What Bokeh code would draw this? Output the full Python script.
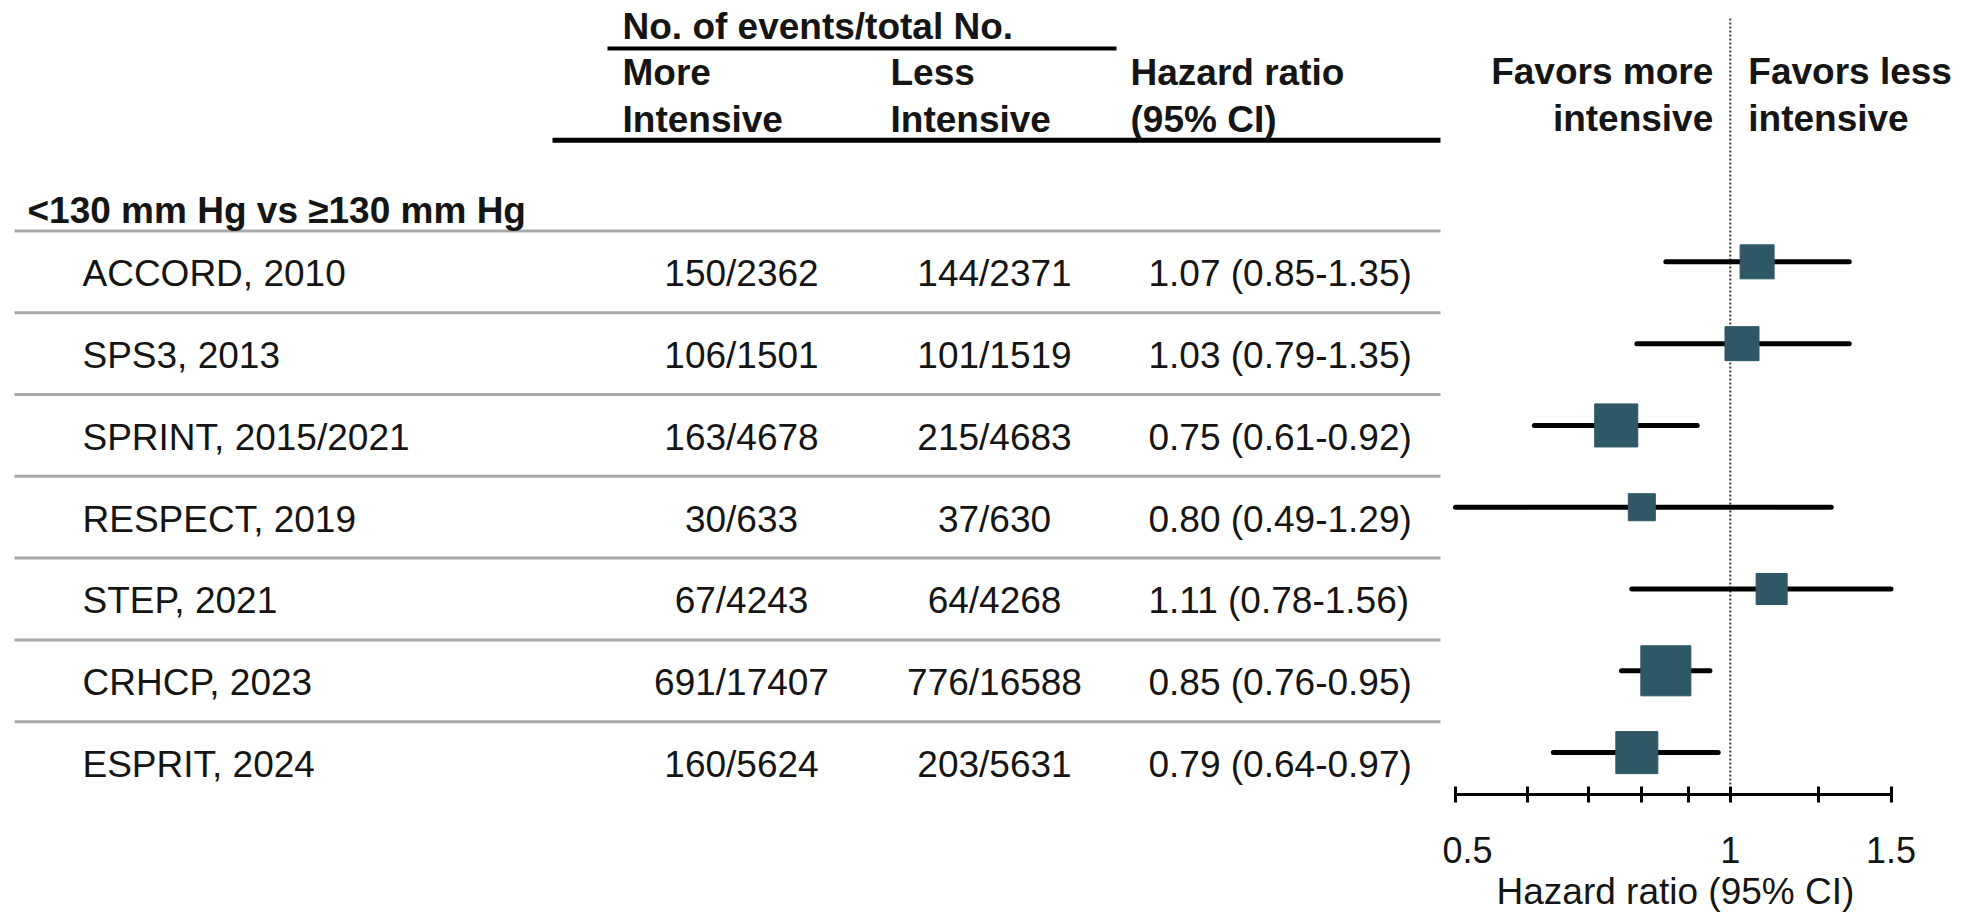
import math

from bokeh.core.properties import value
from bokeh.embed import file_html
from bokeh.layouts import row
from bokeh.models import FixedTicker, Label, Range1d, Title
from bokeh.plotting import figure
from bokeh.resources import INLINE

# ---- data -------------------------------------------------------------
subgroup = "<130 mm Hg vs \u2265130 mm Hg"
studies = ["ACCORD, 2010", "SPS3, 2013", "SPRINT, 2015/2021", "RESPECT, 2019",
           "STEP, 2021", "CRHCP, 2023", "ESPRIT, 2024"]
events_more = ["150/2362", "106/1501", "163/4678", "30/633", "67/4243",
               "691/17407", "160/5624"]
events_less = ["144/2371", "101/1519", "215/4683", "37/630", "64/4268",
               "776/16588", "203/5631"]
hr = [1.07, 1.03, 0.75, 0.80, 1.11, 0.85, 0.79]
ci_low = [0.85, 0.79, 0.61, 0.49, 0.78, 0.76, 0.64]
ci_high = [1.35, 1.35, 0.92, 1.29, 1.56, 0.95, 0.97]
weight_pct = [11.4, 11.4, 18.3, 7.2, 9.5, 24.7, 17.4]

axis_ticks = [0.5, 0.6, 0.7, 0.8, 0.9, 1.0, 1.25, 1.5]
axis_tick_labels = {0.5: "0.5", 1.0: "1", 1.5: "1.5"}
axis_bounds = (0.5, 1.5)
axis_title = "Hazard ratio (95% CI)"

# ---- layout / style ---------------------------------------------------
W, H = 1982, 914
TABLE_W = 1442
AXIS_Y = 796            # vertical position of the hazard-ratio axis
ROW_TOP = 231           # first rule under the subgroup heading
ROW_H = 82
FONT = "Liberation Sans"
FS = "37px"
INK = "#151515"
TEAL = "#2e5866"
RULE_GRAY = "#a9a9a9"

# log axis: pixels per natural-log unit, and where the axis bounds sit
PX_PER_LN = 396.5
AX_LEFT_PX, AX_RIGHT_PX = 1455, 1890.5
x_start = axis_bounds[0] * math.exp(-(AX_LEFT_PX - TABLE_W) / PX_PER_LN)
x_end = axis_bounds[1] * math.exp((W - AX_RIGHT_PX) / PX_PER_LN)
# the axis title starts a little inside the left end of the axis
title_offset = 1496 - TABLE_W

n = len(studies)
row_mid = [ROW_TOP + ROW_H * (i + 0.5) + 2 for i in range(n)]
mark_y = [ROW_TOP + ROW_H * (i + 0.5) - 10 for i in range(n)]
hr_text = [f"{h:.2f} ({lo:.2f}-{hi:.2f})" for h, lo, hi in zip(hr, ci_low, ci_high)]
box_size = [10.07 * math.sqrt(w) for w in weight_pct]
# intervals are truncated at the ends of the axis
ci_x0 = [max(lo, axis_bounds[0]) for lo in ci_low]
ci_x1 = [min(hi, axis_bounds[1]) for hi in ci_high]

txt = dict(text_font=value(FONT), text_font_size=value(FS), text_color=INK,
           text_baseline="middle")

# ---- left: table ------------------------------------------------------
t = figure(width=TABLE_W, height=H, x_range=Range1d(0, TABLE_W),
           y_range=Range1d(AXIS_Y, 0), output_backend="svg", toolbar_location=None,
           x_axis_location=None, y_axis_location=None, min_border=0,
           min_border_bottom=H - AXIS_Y)
t.grid.visible = False
t.outline_line_color = None
t.background_fill_color = "white"
t.border_fill_color = "white"

# header rules
t.segment(x0=[607], x1=[1116], y0=[48], y1=[48], line_color="black", line_width=4)
t.segment(x0=[552], x1=[1440], y0=[140], y1=[140], line_color="black", line_width=5)

# row rules
rule_y = [ROW_TOP + ROW_H * i for i in range(n)]
t.segment(x0=[14] * n, x1=[1440] * n, y0=rule_y, y1=rule_y,
          line_color=RULE_GRAY, line_width=3)

# header texts
t.text(x=[622], y=[26], text=["No. of events/total No."], text_font_style="bold",
       text_align="left", **txt)
t.text(x=[622, 890, 1130], y=[72, 72, 72], text=["More", "Less", "Hazard ratio"],
       text_font_style="bold", text_align="left", **txt)
t.text(x=[622, 890, 1130], y=[119, 119, 119], text=["Intensive", "Intensive", "(95% CI)"],
       text_font_style="bold", text_align="left", **txt)
t.text(x=[27], y=[211], text=[subgroup], text_font_style="bold", text_align="left", **txt)

# body texts
t.text(x=[82] * n, y=row_mid, text=studies, text_align="left", **txt)
t.text(x=[741] * n, y=row_mid, text=events_more, text_align="center", **txt)
t.text(x=[994] * n, y=row_mid, text=events_less, text_align="center", **txt)
t.text(x=[1148] * n, y=row_mid, text=hr_text, text_align="left", **txt)

# ---- right: forest plot ----------------------------------------------
f = figure(width=W - TABLE_W, height=H, x_axis_type="log",
           x_range=Range1d(x_start, x_end), y_range=Range1d(AXIS_Y, 0),
           output_backend="svg", toolbar_location=None, y_axis_location=None,
           min_border=0, min_border_bottom=H - AXIS_Y)
f.grid.visible = False
f.outline_line_color = None
f.background_fill_color = "white"
f.border_fill_color = "white"

# line of no effect
f.segment(x0=[1.0], x1=[1.0], y0=[18], y1=[788], line_color="#3a3a3a",
          line_width=2, line_dash="2 2")

# confidence intervals and point estimates
f.segment(x0=ci_x0, x1=ci_x1, y0=mark_y, y1=mark_y, line_color="black",
          line_width=5, line_cap="round")
f.scatter(x=hr, y=mark_y, marker="square", size=box_size, fill_color=TEAL,
          line_color=TEAL)

ax = f.xaxis[0]
ax.bounds = axis_bounds
ax.ticker = FixedTicker(ticks=axis_ticks, minor_ticks=[])
ax.major_label_overrides = {v: axis_tick_labels.get(v, "") for v in axis_ticks}
ax.axis_line_color = "black"
ax.axis_line_width = 3
ax.major_tick_line_color = "black"
ax.major_tick_line_width = 3
ax.major_tick_in = 8
ax.major_tick_out = 8
ax.minor_tick_line_color = None
ax.major_label_text_font = FONT
ax.major_label_text_font_size = "36px"
ax.major_label_text_color = INK
ax.major_label_standoff = 34

f.add_layout(Title(text=axis_title, align="left", offset=title_offset,
                   standoff=6, text_font=FONT, text_font_size="37px",
                   text_font_style="normal", text_color=INK), "below")

lab = dict(text_font=FONT, text_font_size=FS, text_font_style="bold",
           text_color=INK, text_baseline="middle", x_units="data", y_units="data")
f.add_layout(Label(x=1.0, y=71, x_offset=-17, text="Favors more", text_align="right", **lab))
f.add_layout(Label(x=1.0, y=118, x_offset=-17, text="intensive", text_align="right", **lab))
f.add_layout(Label(x=1.0, y=71, x_offset=18, text="Favors less", text_align="left", **lab))
f.add_layout(Label(x=1.0, y=118, x_offset=18, text="intensive", text_align="left", **lab))

layout = row(t, f)
open("out.html", "w").write(file_html(layout, INLINE))
